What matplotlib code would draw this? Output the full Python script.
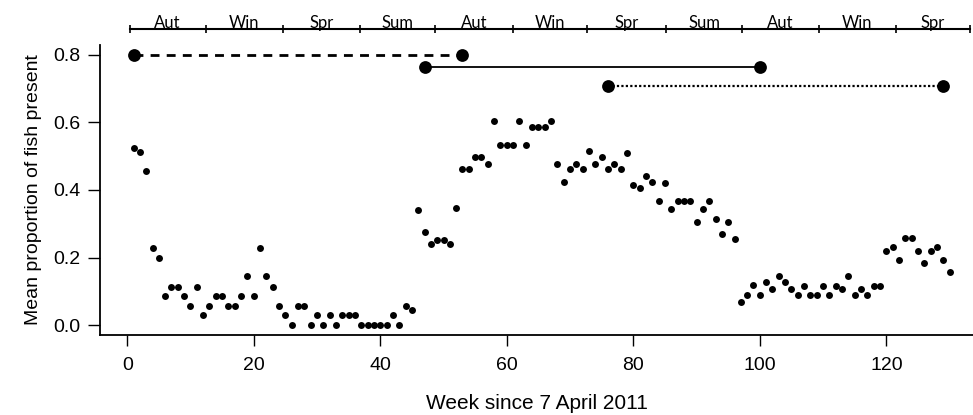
import numpy as np
import matplotlib

# Headless backend
matplotlib.use("Agg")

import matplotlib.pyplot as plt

# ====
# DATA
# ====
weeks = np.arange(1, 131)
proportion = [
    0.525, 0.513, 0.456, 0.228, 0.198, 0.087, 0.114, 0.114, 0.087, 0.056,
    0.114, 0.030, 0.056, 0.087, 0.087, 0.056, 0.056, 0.087, 0.144, 0.087,
    0.228, 0.144, 0.114, 0.056, 0.030, 0.000, 0.056, 0.056, 0.000, 0.030,
    0.000, 0.030, 0.000, 0.030, 0.030, 0.030, 0.000, 0.000, 0.000, 0.000,
    0.000, 0.030, 0.000, 0.056, 0.044, 0.341, 0.275, 0.240, 0.252, 0.252,
    0.240, 0.348, 0.463, 0.463, 0.498, 0.498, 0.478, 0.605, 0.532, 0.532,
    0.532, 0.605, 0.532, 0.587, 0.587, 0.587, 0.605, 0.478, 0.425, 0.463,
    0.478, 0.463, 0.516, 0.478, 0.498, 0.463, 0.478, 0.463, 0.509, 0.414,
    0.405, 0.440, 0.425, 0.367, 0.421, 0.344, 0.367, 0.367, 0.367, 0.305,
    0.344, 0.367, 0.313, 0.271, 0.305, 0.255, 0.067, 0.090, 0.120, 0.090,
    0.128, 0.106, 0.144, 0.128, 0.106, 0.090, 0.117, 0.090, 0.090, 0.117,
    0.090, 0.117, 0.106, 0.144, 0.090, 0.106, 0.090, 0.117, 0.117, 0.220,
    0.232, 0.194, 0.259, 0.259, 0.220, 0.183, 0.220, 0.232, 0.194, 0.156,
]

# Study periods shown as horizontal bars (start week, end week, level)
period_start = [1, 47, 76]
period_end = [53, 100, 129]
period_level = [0.80, 0.765, 0.707]
period_style = ["dashed", "solid", "dotted"]

# Season bar along the top (boundaries in weeks)
season_edges = [0.4, 12.4, 24.6, 36.8, 48.6, 61.0, 72.7, 85.2, 97.2, 109.3, 121.5, 133.2]
season_labels = ["Aut", "Win", "Spr", "Sum", "Aut", "Win", "Spr", "Sum", "Aut", "Win", "Spr"]
SEASON_Y = 0.877

x_ticks = [0, 20, 40, 60, 80, 100, 120]
y_ticks = [0.0, 0.2, 0.4, 0.6, 0.8]

# ====
# PLOT
# ====
plt.rcParams["font.family"] = ["Liberation Sans", "DejaVu Sans"]

fig = plt.figure(figsize=(9.73, 4.15), dpi=100)
ax = fig.add_axes([100 / 973, 80 / 415, 873 / 973, 290 / 415])

ax.plot(weeks, proportion, "o", color="black", markersize=5.0, markeredgewidth=0)

dash_map = {
    "dashed": (0, (3.2, 2.6)),
    "solid": "-",
    "dotted": (0, (1, 1)),
}
lw_map = {"dashed": 2.0, "solid": 1.3, "dotted": 1.6}
for s, e, lev, st in zip(period_start, period_end, period_level, period_style):
    ax.plot([s, e], [lev, lev], color="black", linestyle=dash_map[st], lw=lw_map[st],
            clip_on=False)
    ax.plot([s, e], [lev, lev], "o", color="black", markersize=9.2, markeredgewidth=0,
            clip_on=False)

# Season bar
ax.plot([season_edges[0], season_edges[-1]], [SEASON_Y, SEASON_Y], color="black",
        lw=1.5, clip_on=False)
ax.plot(season_edges, [SEASON_Y] * len(season_edges), "|", color="black",
        markersize=6, markeredgewidth=1.2, clip_on=False)
for i, lab in enumerate(season_labels):
    mid = (season_edges[i] + season_edges[i + 1]) / 2
    ax.text(mid, SEASON_Y + 0.004, lab, ha="center", va="baseline", fontsize=12,
            family=["Lato", "DejaVu Sans"], clip_on=False)

# Axes styling (R-like L box)
ax.set_xlim(-4.3, 133.7)
ax.set_ylim(-0.0296, 0.8296)
ax.spines["top"].set_visible(False)
ax.spines["right"].set_visible(False)
for sp in ["left", "bottom"]:
    ax.spines[sp].set_linewidth(1.3)

ax.set_xticks(x_ticks)
ax.set_yticks(y_ticks)
ax.set_yticklabels([f"{v:.1f}" for v in y_ticks])
ax.tick_params(axis="x", direction="out", length=8, width=1.0, pad=8, labelsize=14)
ax.tick_params(axis="y", direction="out", length=9, width=1.0, pad=5, labelsize=14)

ax.set_xlabel("Week since 7 April 2011", fontsize=15, labelpad=14)
ax.set_ylabel("Mean proportion of fish present", fontsize=14, labelpad=8)

fig.savefig("out.png", dpi=100)
